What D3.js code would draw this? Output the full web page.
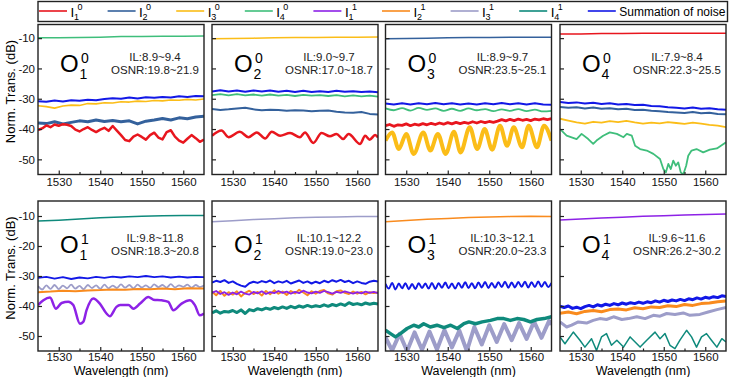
<!DOCTYPE html>
<html>
<head>
<meta charset="utf-8">
<script src="https://cdn.jsdelivr.net/npm/d3@7"></script>
<style>
  body { margin: 0; background: #fff; }
  svg { display: block; font-family: "Liberation Sans", Arial, sans-serif; }
</style>
</head>
<body>
<div id="chart"></div>
<script>
// wavelength grids (nm)
var wl1 = [1525,1526,1527,1528,1529,1530,1531,1532,1533,1534,1535,1536,1537,1538,1539,1540,1541,1542,1543,1544,1545,1546,1547,1548,1549,1550,1551,1552,1553,1554,1555,1556,1557,1558,1559,1560,1561,1562,1563,1564,1565];
var wl2 = [1525,1527,1529,1531,1533,1535,1537,1539,1541,1543,1545,1547,1549,1551,1553,1555,1557,1559,1561,1563,1565];
var wl5 = [1525,1530,1535,1540,1545,1550,1555,1560,1565];

var xTicks = [1530,1540,1550,1560];
var xMinor = [1535,1545,1555];
var yTicks = [-10,-20,-30,-40,-50];

// legend: I_sub^sup and summation
var legendSub = ["1","2","3","4","1","2","3","4"];
var legendSup = ["0","0","0","0","1","1","1","1"];
var colors = ["#e8161e","#34619c","#fbbd18","#3fbe7b","#8d22e6","#f98b1e","#9d9dc9","#0f8a7c","#1218e6"];

// panel titles
var modeSub = ["1","2","3","4","1","2","3","4"];
var modeSup = ["0","0","0","0","1","1","1","1"];
var ilRange = ["8.9~9.4","9.0~9.7","8.9~9.7","7.9~8.4","9.8~11.8","10.1~12.2","10.3~12.1","9.6~11.6"];
var osnrRange = ["19.8~21.9","17.0~18.7","23.5~25.1","22.3~25.5","18.3~20.8","19.0~23.0","20.0~23.3","26.2~30.2"];

// ---- O1^0 ----
var o10_sig = [-9.9,-9.9,-9.8,-9.7,-9.5,-9.5,-9.4,-9.4,-9.3];
var o10_sum = [-30.8,-31.0,-30.6,-30.9,-30.5,-30.7,-30.3,-30.5,-30.1,-29.8,-30.0,-29.6,-29.9,-29.5,-29.7,-29.4,-29.6,-29.2,-29.4,-29.1,-29.2];
var o10_i3 = [-32.3,-32.6,-33.1,-32.4,-32.1,-32.2,-31.6,-31.7,-31.3,-31.4,-31.0,-31.1,-30.8,-30.9,-30.6,-30.7,-30.4,-30.5,-30.2,-30.4,-30.1];
var o10_i2 = [-38.0,-38.2,-37.6,-38.3,-37.8,-37.3,-37.6,-37.0,-37.5,-37.2,-37.6,-37.3,-38.3,-37.4,-37.0,-36.5,-37.0,-36.3,-36.6,-36.0,-35.8];
var o10_i1 = [-40.3,-39.8,-38.8,-39.4,-38.5,-38.9,-38.4,-38.6,-39.0,-40.2,-40.8,-40.0,-39.4,-40.3,-41.0,-40.2,-39.6,-40.6,-39.0,-40.5,-42.0,-43.6,-44.0,-42.5,-41.8,-42.6,-43.5,-42.0,-41.2,-42.8,-43.4,-41.0,-40.4,-42.5,-43.8,-44.5,-43.2,-42.0,-43.0,-44.2,-43.5];

// ---- O2^0 ----
var o20_sig = [-10.2,-10.1,-10.0,-9.9,-9.8,-9.8,-9.7,-9.7,-9.6];
var o20_sum = [-27.6,-27.2,-27.6,-27.3,-27.7,-27.3,-27.6,-27.3,-27.7,-27.4,-27.8,-27.4,-27.8,-27.5,-27.8,-27.4,-27.7,-27.5,-27.8,-27.6,-27.9];
var o20_i4 = [-28.8,-28.5,-28.9,-28.5,-28.9,-28.6,-29.0,-28.6,-29.0,-28.7,-29.1,-28.7,-29.0,-28.8,-29.1,-28.8,-29.2,-28.9,-29.2,-29.0,-29.3];
var o20_i2 = [-33.4,-33.7,-33.5,-33.2,-33.0,-33.5,-33.8,-33.6,-33.7,-34.0,-33.8,-33.9,-34.1,-34.0,-33.9,-34.3,-34.5,-34.6,-34.4,-35.0,-35.2];
var o20_i1 = [[1525,-42.2],[1527.3,-40.5],[1529,-42.7],[1531.7,-40.9],[1533.8,-42.7],[1535.8,-41.1],[1537.8,-43.1],[1539.4,-40.9],[1541.4,-42.2],[1543.8,-41.3],[1546.2,-42.7],[1547.4,-41.1],[1549.4,-44.6],[1551.4,-41.3],[1553.4,-42.4],[1555,-41.6],[1556.6,-43.3],[1557.9,-41.6],[1560.7,-44.9],[1561.9,-42.2],[1563,-43.5],[1564.3,-42.0],[1565,-42.8]];

// ---- O3^0 ----
var o30_sig = [-10.2,-10.1,-10.0,-9.9,-9.8,-9.8,-9.7,-9.7,-9.7];
var o30_sum = [-31.6,-31.9,-31.5,-31.9,-31.5,-31.8,-31.4,-31.8,-31.5,-31.9,-31.6,-31.9,-31.5,-31.8,-31.4,-31.8,-31.5,-31.9,-31.5,-31.9,-32.0];
var o30_i4 = [-33.2,-33.8,-33.1,-33.9,-33.0,-33.7,-33.2,-34.0,-33.3,-34.0,-33.2,-33.8,-33.4,-34.1,-33.5,-34.0,-33.4,-34.1,-33.6,-34.2,-34.0];
var o30_i1 = [-38.9,-38.5,-39.1,-38.6,-38.8,-38.3,-38.9,-38.4,-38.7,-38.2,-38.6,-38.1,-38.5,-38.0,-38.4,-37.9,-38.3,-37.8,-38.2,-37.8,-38.1,-37.6,-38.0,-37.5,-37.9,-37.5,-37.8,-37.4,-36.9,-37.3,-36.8,-37.2,-36.7,-37.1,-36.8,-37.2,-36.7,-37.0,-36.6,-36.9,-36.6];
var o30_i3 = [[1525,-43.8],[1526.6,-41.1],[1528.2,-46.6],[1530,-41.6],[1531.8,-48.2],[1534.1,-41.1],[1535.8,-47.1],[1537.6,-41.6],[1539.5,-48.2],[1541.5,-40.9],[1543.1,-47.7],[1545.3,-39.4],[1547.1,-46.6],[1548.9,-40.0],[1550.7,-46.8],[1552.6,-38.9],[1554.3,-45.5],[1555.9,-39.4],[1557.9,-46.0],[1559.5,-38.9],[1561.5,-46.0],[1563.2,-38.9],[1565,-43.8]];

// ---- O4^0 ----
var o40_sig = [-8.6,-8.6,-8.5,-8.5,-8.4,-8.4,-8.4,-8.4,-8.4];
var o40_sum = [-31.1,-31.4,-31.2,-31.6,-31.3,-31.7,-31.5,-31.9,-31.7,-32.1,-32.0,-32.4,-32.5,-32.8,-33.0,-33.2,-32.9,-33.3,-33.1,-33.5,-33.6];
var o40_i2 = [-32.7,-33.0,-32.8,-33.2,-32.9,-33.3,-33.1,-33.5,-33.3,-33.7,-33.6,-34.0,-34.1,-34.4,-34.5,-34.7,-34.4,-34.8,-34.6,-35.0,-35.1];
var o40_i3 = [-36.6,-37.2,-37.8,-38.2,-37.6,-37.9,-37.4,-37.7,-37.3,-37.8,-38.2,-37.9,-38.1,-37.7,-38.0,-38.3,-37.9,-38.2,-38.6,-38.9,-39.4];
var o40_i4 = [[1525,-40.0],[1526.6,-42.2],[1529,-43.3],[1530.2,-41.6],[1531.8,-43.3],[1533,-44.9],[1533.8,-43.8],[1535.4,-42.2],[1537,-41.1],[1538.7,-41.6],[1540.3,-42.7],[1541.1,-41.6],[1542.3,-42.2],[1543.1,-45.5],[1544.3,-46.6],[1545.9,-47.1],[1547.5,-48.2],[1549.1,-49.9],[1549.9,-53.2],[1550.5,-54.3],[1551.1,-51.5],[1551.7,-53.2],[1552.3,-50.4],[1552.9,-52.1],[1553.5,-51.0],[1554.1,-54.3],[1554.7,-55.0],[1555.4,-52.1],[1555.9,-48.8],[1556.7,-47.1],[1557.9,-46.6],[1559.5,-47.7],[1561.1,-46.8],[1562.8,-46.4],[1564.4,-44.9],[1565,-44.4]];

// ---- O1^1 ----
var o11_sig = [-11.7,-11.4,-11.0,-10.6,-10.3,-10.1,-9.9,-9.8,-9.8];
var o11_sum = [-30.6,-30.3,-30.9,-30.4,-31.0,-30.5,-30.8,-30.3,-30.6,-30.2,-30.5,-30.1,-30.4,-30.0,-30.4,-30.1,-30.5,-30.2,-30.5,-30.3,-30.4];
var o11_i3 = [-33.4,-34.5,-33.1,-34.3,-33.0,-34.4,-33.2,-34.1,-32.9,-34.2,-33.3,-34.4,-33.0,-34.0,-33.1,-34.3,-32.9,-34.1,-33.2,-34.0,-32.8,-33.9,-33.0,-34.1,-32.9,-33.8,-33.1,-34.0,-32.8,-33.7,-33.0,-33.9,-32.7,-33.8,-33.1,-33.6,-32.9,-33.9,-33.0,-33.7,-33.2];
var o11_i2 = [[1525,-35.4],[1528,-35.2],[1531,-34.9],[1534,-35.1],[1537,-34.8],[1540,-34.7],[1543,-34.5],[1546,-34.6],[1549,-34.3],[1552,-34.4],[1555,-34.2],[1558,-34.4],[1561,-34.1],[1565,-34.2]];
var o11_i1 = [[1525,-39.7],[1526.3,-38.1],[1527.9,-37.2],[1529.3,-40.9],[1530.7,-39.0],[1532.3,-38.6],[1533.5,-39.7],[1535.1,-45.9],[1535.9,-45.3],[1536.7,-41.4],[1538.3,-37.5],[1539.9,-39.2],[1541.5,-42.5],[1542.3,-43.4],[1543.9,-40.3],[1544.8,-39.7],[1546.8,-39.7],[1548,-40.9],[1549.6,-39.2],[1551.6,-37.0],[1552.8,-37.9],[1554.8,-38.1],[1556.4,-38.6],[1557.6,-41.4],[1559.6,-39.2],[1561.6,-38.1],[1562.8,-39.7],[1564,-43.1],[1565,-42.5]];

// ---- O2^1 ----
var o21_sig = [-11.9,-11.6,-11.2,-10.9,-10.6,-10.4,-10.3,-10.2,-10.2];
var o21_sum = [-32.2,-31.6,-32.0,-31.4,-32.3,-31.8,-32.6,-33.2,-33.6,-32.4,-31.9,-32.3,-31.7,-32.1,-31.5,-32.4,-31.8,-32.2,-31.6,-32.5,-32.0,-31.5,-32.3,-31.8,-32.5,-31.9,-32.4,-31.6,-32.1,-31.4,-31.9,-31.3,-32.0,-31.6,-32.4,-31.8,-32.3,-32.6,-31.9,-31.6,-31.8];
var o21_i2 = [-35.2,-36.4,-35.0,-36.6,-35.4,-36.2,-35.1,-36.8,-35.6,-34.9,-36.0,-35.3,-36.5,-35.0,-36.1,-34.8,-35.9,-35.2,-36.3,-35.0,-35.8,-34.6,-35.5,-36.4,-35.1,-35.9,-35.0,-34.7,-35.8,-36.2,-35.1,-34.8,-35.6,-36.0,-35.2,-35.9,-35.3,-36.1,-35.4,-35.7,-35.5];
var o21_i1 = [-35.6,-35.0,-36.0,-35.4,-36.3,-35.5,-36.1,-35.2,-35.9,-36.2,-35.3,-35.8,-35.1,-36.0,-35.4,-35.7,-35.0,-35.6,-35.2,-35.9,-35.3,-35.7,-34.9,-35.5,-35.8,-35.2,-35.6,-35.0,-35.4,-35.9,-35.3,-35.6,-35.1,-35.5,-35.9,-35.4,-35.8,-35.2,-35.6,-35.3,-35.7];
var o21_i4 = [-42.3,-41.6,-42.4,-41.8,-42.0,-41.5,-42.2,-41.3,-42.5,-41.2,-41.6,-40.9,-41.3,-40.7,-41.1,-40.5,-40.9,-40.3,-40.8,-40.1,-40.6,-40.0,-40.4,-39.8,-40.3,-39.9,-40.2,-39.6,-40.1,-39.5,-39.9,-39.3,-39.8,-38.9,-39.5,-39.2,-39.6,-39.0,-39.4,-39.1,-39.3];

// ---- O3^1 ----
var o31_sig = [-11.9,-11.5,-11.1,-10.8,-10.5,-10.3,-10.2,-10.1,-10.2];
var o31_sum = [[1525,-32.6],[1525.8,-34.2],[1526.6,-32.3],[1527.4,-34.5],[1528.2,-32.5],[1529,-34.1],[1529.8,-32.4],[1530.6,-34.4],[1531.4,-32.7],[1532.2,-34.3],[1533,-32.4],[1533.8,-34.0],[1534.6,-32.5],[1535.4,-34.2],[1536.2,-32.3],[1537,-34.3],[1537.8,-32.4],[1538.6,-33.9],[1539.4,-32.2],[1540.2,-34.1],[1541,-32.5],[1541.8,-34.2],[1542.6,-32.3],[1543.4,-33.9],[1544.2,-32.1],[1545,-34.0],[1545.8,-32.4],[1546.6,-34.1],[1547.4,-32.2],[1548.2,-33.8],[1549,-32.0],[1549.8,-34.0],[1550.6,-32.3],[1551.4,-33.9],[1552.2,-32.1],[1553,-33.7],[1553.8,-31.9],[1554.6,-33.9],[1555.4,-32.2],[1556.2,-33.8],[1557,-32.0],[1557.8,-33.6],[1558.6,-31.9],[1559.4,-33.8],[1560.2,-32.1],[1561,-33.7],[1561.8,-31.8],[1562.6,-33.6],[1563.4,-32.0],[1564.2,-33.7],[1565,-32.3]];
var o31_i4 = [[1525,-48.1],[1526.2,-49.2],[1527.4,-50.3],[1528.6,-49.2],[1530.2,-47.5],[1531.8,-46.4],[1533,-47.0],[1534.2,-45.9],[1535.8,-47.0],[1537.4,-46.4],[1539.1,-47.2],[1540.7,-46.4],[1542.3,-47.5],[1543.9,-45.9],[1545.1,-45.3],[1546.7,-45.9],[1548.3,-45.3],[1550.3,-44.8],[1551.9,-44.2],[1553.5,-44.2],[1555.1,-44.8],[1556.7,-44.2],[1558.3,-44.5],[1559.9,-45.3],[1561.5,-44.5],[1563.2,-44.2],[1565,-43.6]];
var o31_i3 = [[1525,-50.5],[1526.6,-54.8],[1528.4,-49.3],[1530.2,-55.0],[1532,-48.8],[1533.8,-54.6],[1535.6,-48.5],[1537.4,-54.5],[1539.2,-48.0],[1541,-53.8],[1542.8,-48.2],[1544.6,-55.0],[1546.4,-47.0],[1548.2,-52.8],[1550,-46.4],[1551.8,-52.0],[1553.6,-46.0],[1555.4,-51.4],[1557.2,-45.7],[1559,-51.0],[1560.8,-45.2],[1562.6,-50.6],[1564.4,-45.0],[1565,-46.2]];

// ---- O4^1 ----
var o41_sig = [-11.3,-11.0,-10.7,-10.4,-10.1,-9.9,-9.7,-9.5,-9.3];
var o41_sum = [-40.1,-40.5,-40.0,-40.8,-40.4,-40.9,-40.2,-39.8,-40.3,-39.6,-40.0,-39.4,-39.8,-39.2,-39.6,-39.0,-39.4,-38.9,-39.2,-38.7,-39.1,-38.6,-38.9,-38.3,-38.7,-38.1,-38.5,-38.0,-38.3,-37.8,-38.2,-37.6,-37.9,-37.3,-37.7,-37.1,-37.4,-36.9,-37.2,-36.6,-36.8];
var o41_i2 = [-42.4,-42.0,-42.6,-41.8,-41.5,-41.9,-41.2,-41.0,-41.3,-40.6,-40.9,-40.3,-40.5,-39.9,-40.2,-39.5,-39.8,-39.2,-39.0,-38.6,-38.3];
var o41_i3 = [[1525,-45.3],[1526.6,-47.0],[1527.8,-46.4],[1529.4,-45.3],[1531.4,-45.7],[1533,-44.8],[1534.6,-44.2],[1536.2,-44.5],[1537.9,-43.6],[1539.9,-44.5],[1541.5,-44.2],[1543.5,-43.6],[1545.5,-44.2],[1547.5,-43.1],[1549.1,-43.4],[1550.7,-42.5],[1552.7,-42.8],[1554.7,-42.3],[1556.3,-43.1],[1558.7,-42.8],[1560.7,-42.0],[1562.8,-41.2],[1565,-40.5]];
var o41_i4 = [[1525,-50.3],[1526.2,-52.6],[1528.2,-48.7],[1529.8,-51.4],[1531,-53.7],[1532.6,-50.9],[1533.8,-54.8],[1535,-50.3],[1536.2,-49.2],[1537.4,-53.1],[1538.7,-51.4],[1540.3,-53.7],[1541.9,-50.3],[1543.1,-52.0],[1544.3,-53.7],[1545.9,-51.4],[1547.9,-48.7],[1549.1,-50.9],[1550.3,-49.2],[1551.5,-53.1],[1552.7,-54.2],[1553.9,-51.4],[1555.5,-48.1],[1556.7,-50.3],[1557.9,-53.7],[1559.1,-50.3],[1560.3,-49.2],[1561.5,-51.4],[1562.8,-53.7],[1564,-50.9],[1565,-52.0]];

// which series go in which panel (k = legend/colour index, w = line width, c = smooth curve)
var panels = [
  [{k:3,w:1.5,x:wl5,y:o10_sig},{k:8,w:2,x:wl2,y:o10_sum},{k:2,w:1.6,x:wl2,y:o10_i3},{k:1,w:3,x:wl2,y:o10_i2},{k:0,w:2.5,x:wl1,y:o10_i1}],
  [{k:2,w:1.5,x:wl5,y:o20_sig},{k:8,w:2,x:wl2,y:o20_sum},{k:3,w:1.8,x:wl2,y:o20_i4},{k:1,w:2,x:wl2,y:o20_i2},{k:0,w:2.5,p:o20_i1,c:1}],
  [{k:1,w:1.5,x:wl5,y:o30_sig},{k:8,w:2,x:wl2,y:o30_sum},{k:3,w:1.8,x:wl2,y:o30_i4,c:1},{k:0,w:2.8,x:wl1,y:o30_i1},{k:2,w:4,p:o30_i3,c:1}],
  [{k:0,w:1.5,x:wl5,y:o40_sig},{k:8,w:2,x:wl2,y:o40_sum},{k:1,w:2,x:wl2,y:o40_i2},{k:2,w:1.8,x:wl2,y:o40_i3},{k:3,w:1.8,p:o40_i4}],
  [{k:7,w:1.5,x:wl5,y:o11_sig},{k:8,w:1.8,x:wl2,y:o11_sum},{k:6,w:1.8,x:wl1,y:o11_i3,c:1},{k:5,w:2,p:o11_i2},{k:4,w:2.5,p:o11_i1,c:1}],
  [{k:6,w:1.5,x:wl5,y:o21_sig},{k:8,w:2,x:wl1,y:o21_sum},{k:5,w:2,x:wl1,y:o21_i2},{k:4,w:1.8,x:wl1,y:o21_i1},{k:7,w:3,x:wl1,y:o21_i4}],
  [{k:5,w:1.5,x:wl5,y:o31_sig},{k:8,w:2,p:o31_sum,c:1},{k:6,w:4,p:o31_i3},{k:7,w:3.5,p:o31_i4}],
  [{k:4,w:1.5,x:wl5,y:o41_sig},{k:7,w:1.5,p:o41_i4},{k:6,w:3,p:o41_i3},{k:5,w:3,x:wl2,y:o41_i2},{k:8,w:3,x:wl1,y:o41_sum}]
];

// layout
var W = 729, H = 377;
var pw = 166, ph = 150;
var colLeft = [38, 212, 385.5, 560];
var rowTop = [24.5, 201];
var rowMax = [-5.5, -5];
var frameColor = "#222";

var svg = d3.select("#chart").append("svg")
    .attr("width", W)
    .attr("height", H);
svg.append("rect").attr("width", W).attr("height", H).attr("fill", "#fff");

var x = d3.scaleLinear().domain([1525, 1565]).range([0, pw]);

panels.forEach(function(series, p) {
  var col = p % 4, row = Math.floor(p / 4);
  var y = d3.scaleLinear().domain([-55, rowMax[row]]).range([ph, 0]);
  var g = svg.append("g")
      .attr("transform", "translate(" + colLeft[col] + "," + rowTop[row] + ")");

  g.append("clipPath").attr("id", "clip" + p)
    .append("rect").attr("width", pw).attr("height", ph);

  var plot = g.append("g").attr("clip-path", "url(#clip" + p + ")");
  series.forEach(function(s) {
    var pts = s.p ? s.p : d3.zip(s.x, s.y);
    var lineGen = d3.line()
        .x(function(d) { return x(d[0]); })
        .y(function(d) { return y(d[1]); })
        .curve(s.c ? d3.curveMonotoneX : d3.curveLinear);
    plot.append("path")
      .datum(pts)
      .attr("d", lineGen)
      .attr("fill", "none")
      .attr("stroke", colors[s.k])
      .attr("stroke-width", s.w)
      .attr("stroke-linejoin", "round");
  });

  // axes, ticks pointing inward
  g.append("g")
      .attr("transform", "translate(0," + ph + ")")
      .call(d3.axisBottom(x).tickValues(xTicks).tickSize(-4).tickPadding(row === 0 ? 3.5 : 2)
        .tickFormat(function(d) { return String(d); }));
  g.append("g")
      .attr("transform", "translate(0," + ph + ")")
      .call(d3.axisBottom(x).tickValues(xMinor).tickSize(-2.5).tickFormat(""));
  g.append("g")
      .call(d3.axisLeft(y).tickValues(yTicks).tickSize(-4).tickPadding(3)
        .tickFormat(function(d) { return col === 0 ? String(d) : ""; }));
  g.selectAll(".domain").remove();
  g.selectAll(".tick line").attr("stroke", frameColor).attr("stroke-width", 1.2);
  g.selectAll(".tick text").attr("font-size", 11.5).attr("fill", "#111")
    .attr("font-family", "'Liberation Sans', Arial, sans-serif");

  g.append("rect")
    .attr("width", pw).attr("height", ph)
    .attr("fill", "none").attr("stroke", frameColor).attr("stroke-width", 1.4);

  // panel title O_m^k and IL / OSNR
  var ly = row === 0 ? 0 : 4.5;
  g.append("text").attr("x", 22).attr("y", 47.5 + ly).attr("font-size", 24).text("O");
  g.append("text").attr("x", 41.5).attr("y", 54 + ly).attr("font-size", 14).text(modeSub[p]);
  g.append("text").attr("x", 43).attr("y", 38 + ly).attr("font-size", 14).text(modeSup[p]);
  g.append("text").attr("x", pw - 49).attr("y", 36.5 + ly).attr("font-size", 11.5)
    .attr("text-anchor", "middle").attr("fill", "#222").text("IL:" + ilRange[p]);
  g.append("text").attr("x", pw - 49).attr("y", 49.5 + ly).attr("font-size", 11.5)
    .attr("text-anchor", "middle").attr("fill", "#222").text("OSNR:" + osnrRange[p]);

  if (row === 1) {
    g.append("text").attr("x", pw / 2).attr("y", ph + 24).attr("font-size", 12.5)
      .attr("text-anchor", "middle").text("Wavelength (nm)");
  }
});

// y-axis titles
rowTop.forEach(function(t) {
  svg.append("text")
    .attr("transform", "translate(14.5," + (t + ph / 2 - 8) + ") rotate(-90)")
    .attr("text-anchor", "middle")
    .attr("font-size", 13)
    .text("Norm. Trans. (dB)");
});

// legend
var leg = svg.append("g");
leg.append("rect")
  .attr("x", 38).attr("y", 1.5).attr("width", 689.5).attr("height", 20)
  .attr("fill", "none").attr("stroke", frameColor).attr("stroke-width", 1.4);
colors.forEach(function(c, i) {
  var x0 = 39 + i * 68.6;
  leg.append("line")
    .attr("x1", x0).attr("x2", x0 + 28).attr("y1", 11).attr("y2", 11)
    .attr("stroke", c).attr("stroke-width", 1.6);
  if (i < 8) {
    leg.append("text").attr("x", x0 + 31.5).attr("y", 16.5).attr("font-size", 13.5).text("I");
    leg.append("text").attr("x", x0 + 35).attr("y", 19.5).attr("font-size", 9).text(legendSub[i]);
    leg.append("text").attr("x", x0 + 38.5).attr("y", 9.5).attr("font-size", 9).text(legendSup[i]);
  } else {
    leg.append("text").attr("x", x0 + 31.5).attr("y", 15.5).attr("font-size", 12).text("Summation of noise");
  }
});
</script>
</body>
</html>
